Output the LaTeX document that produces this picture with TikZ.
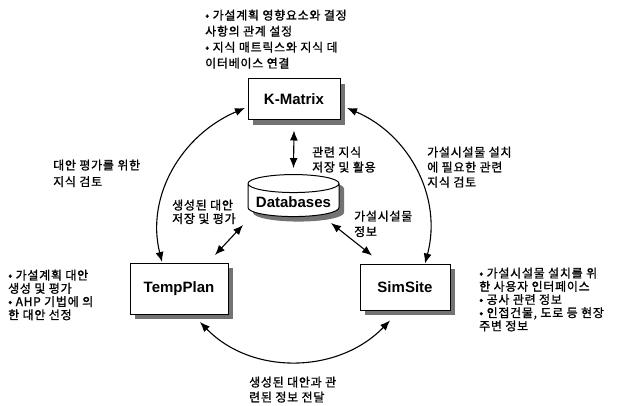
\documentclass[tikz,border=0pt]{standalone}
\usepackage{fontspec}
\setmainfont{Liberation Sans}
\newfontfamily\kr{Noto Sans CJK KR}[LetterSpace=6,FakeBold=1.2]
\usetikzlibrary{shapes.geometric,shadows,arrows.meta}

\tikzset{
    sys node/.style={rectangle,draw,fill=white,line width=1pt,
        font=\bfseries\fontsize{15}{18}\selectfont,
        drop shadow={shadow xshift=5pt,shadow yshift=-5pt,fill=black!55,opacity=1}},
    db node/.style={cylinder,shape border rotate=90,aspect=0.22,draw,fill=white,line width=1pt,
        font=\bfseries\fontsize{15}{18}\selectfont,
        drop shadow={shadow xshift=5pt,shadow yshift=-5pt,fill=black!55,opacity=1}},
    note/.style={anchor=north west,inner sep=0,align=left,font=\kr\fontsize{12}{15.5}\selectfont},
    list/.style={note,font=\kr\fontsize{12}{13.2}\selectfont},
    both way/.style={{Latex[length=10pt,width=8pt]}-{Latex[length=10pt,width=8pt]},line width=1.1pt}
    }

\begin{document}
\begin{tikzpicture}[x=1pt,y=1pt]
    \useasboundingbox (0,0) rectangle (619,405);
    % the three systems and the shared databases
    \node(kmat)[sys node,minimum width=92pt,minimum height=41pt] at (294,305.5){K-Matrix};
    \node(db)[db node,minimum width=91pt,minimum height=42pt] at (293.5,203){Databases};
    \node(tp)[sys node,minimum width=98pt,minimum height=51pt] at (179,116.5){TempPlan};
    \node(ss)[sys node,minimum width=90pt,minimum height=46pt] at (405,118){SimSite};

    % links to the databases
    \draw[both way] ([yshift=-10pt]kmat.south) -- ([yshift=6pt]db.north);
    \draw[both way] ([shift={(36pt,33.5pt)}]tp.center) -- ([shift={(-50.5pt,-23pt)}]db.center);
    \draw[both way] ([shift={(-33pt,31.5pt)}]ss.center) -- ([shift={(37.5pt,-21pt)}]db.center);

    % outer ring
    \draw[both way] ([shift={(-49pt,-8.5pt)}]kmat.center) to[out=203,in=104] ([shift={(-17pt,26.5pt)}]tp.center);
    \draw[both way] ([shift={(53pt,-8.5pt)}]kmat.center) to[out=-23,in=75] ([shift={(20pt,23.5pt)}]ss.center);
    \draw[both way] ([shift={(21pt,-33.5pt)}]tp.center) to[out=-46,in=226] ([shift={(-15pt,-33.5pt)}]ss.center);

    % descriptions
    \node(kmatnote)[note,font=\kr\fontsize{12}{16}\selectfont] at (205,395.5)
        {• 가설계획 영향요소와 결정\\사항의 관계 설정\\• 지식 매트릭스와 지식 데\\이터베이스 연결};
    \node(tpnote)[list] at (8,135.5)
        {• 가설계획 대안\\생성 및 평가\\• AHP 기법에 의\\한 대안 선정};
    \node(ssnote)[list] at (479,137.5)
        {• 가설시설물 설치를 위\\한 사용자 인터페이스\\• 공사 관련 정보\\• 인접건물, 도로 등 현장\\주변 정보};

    % link labels
    \node(lkt)[note,font=\kr\fontsize{12}{16.5}\selectfont] at (53,245.5){대안 평가를 위한\\지식 검토};
    \node(lkd)[note,font=\kr\fontsize{12}{15}\selectfont] at (312,258.5){관련 지식\\저장 및 활용};
    \node(lks)[note,font=\kr\fontsize{12}{15}\selectfont] at (427,258.5){가설시설물 설치\\에 필요한 관련\\지식 검토};
    \node(ltd)[note,font=\kr\fontsize{12}{13.5}\selectfont] at (172,205.5){생성된 대안\\저장 및 평가};
    \node(lsd)[note] at (354,194.5){가설시설물\\정보};
    \node(lts)[note,font=\kr\fontsize{12}{15}\selectfont] at (249,28.5){생성된 대안과 관\\련된 정보 전달};
\end{tikzpicture}
\end{document}
